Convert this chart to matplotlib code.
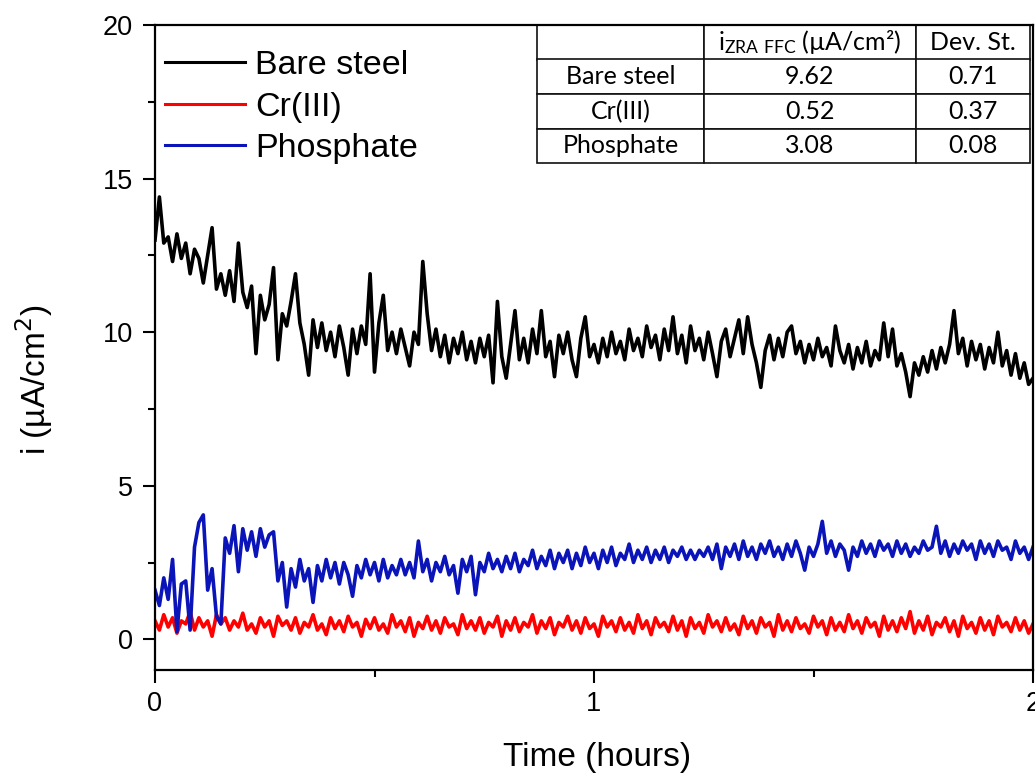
import numpy as np
import matplotlib
matplotlib.use('Agg')
import matplotlib.pyplot as plt
from matplotlib.ticker import MultipleLocator

plt.rcParams['font.family'] = ['Liberation Sans', 'DejaVu Sans']

# time axis, one reading every 0.01 h
time_h = np.arange(201) * 0.01

bare_steel = [
    13.0, 14.4, 12.9, 13.1, 12.3, 13.2, 12.4, 12.9, 11.9, 12.7,
    12.4, 11.6, 12.5, 13.4, 11.4, 11.9, 11.2, 12.0, 11.0, 12.9,
    11.3, 10.8, 11.5, 9.3, 11.2, 10.4, 10.9, 12.1, 9.1, 10.6,
    10.2, 11.0, 11.9, 10.3, 9.6, 8.6, 10.4, 9.5, 10.3, 9.4,
    10.0, 9.2, 10.2, 9.5, 8.6, 10.1, 9.3, 10.2, 9.6, 11.9,
    8.7, 10.3, 11.2, 9.4, 10.0, 9.3, 10.1, 9.5, 8.9, 10.0,
    9.6, 12.3, 10.6, 9.4, 10.1, 9.2, 9.9, 9.0, 9.8, 9.3,
    10.0, 9.1, 9.7, 9.0, 9.8, 9.2, 9.9, 8.35, 11.0, 9.2,
    8.5, 9.6, 10.7, 9.1, 9.8, 9.0, 10.1, 9.3, 10.7, 9.2,
    9.7, 8.55, 9.9, 9.3, 10.0, 9.1, 8.55, 9.8, 10.5, 9.2,
    9.6, 9.0, 9.8, 9.2, 10.0, 9.3, 9.7, 9.1, 10.1, 9.4,
    9.8, 9.2, 10.2, 9.5, 9.9, 9.1, 10.1, 9.4, 10.5, 9.3,
    9.9, 9.0, 10.2, 9.4, 9.8, 9.1, 10.0, 9.3, 8.55, 9.7,
    10.1, 9.2, 9.8, 10.4, 9.3, 10.5, 9.6, 9.0, 8.2, 9.4,
    9.9, 9.1, 9.8, 9.2, 10.0, 10.2, 9.3, 9.7, 9.0, 9.6,
    9.1, 9.8, 9.2, 9.5, 8.9, 10.2, 9.4, 9.0, 9.6, 8.8,
    9.5, 9.0, 9.7, 8.9, 9.4, 9.1, 10.3, 9.2, 10.1, 8.9,
    9.3, 8.7, 7.9, 9.0, 8.6, 9.2, 8.7, 9.4, 8.8, 9.5,
    9.0, 9.6, 10.7, 9.3, 9.8, 8.9, 9.7, 9.1, 9.6, 8.8,
    9.5, 9.0, 10.0, 8.9, 9.4, 8.6, 9.3, 8.5, 9.0, 8.3,
    8.5]

cr_iii = [
    0.6, 0.3, 0.8, 0.4, 0.7, 0.2, 0.6, 0.5, 0.9, 0.3,
    0.7, 0.4, 0.6, 0.1, 0.8, 0.5, 0.7, 0.3, 0.6, 0.4,
    0.85, 0.3, 0.5, 0.2, 0.7, 0.4, 0.6, 0.1, 0.75, 0.45,
    0.6, 0.3, 0.7, 0.2, 0.55, 0.4, 0.8, 0.3, 0.5, 0.15,
    0.7, 0.35, 0.6, 0.25, 0.75, 0.4, 0.55, 0.1, 0.65, 0.35,
    0.7, 0.3, 0.5, 0.2, 0.8, 0.4, 0.6, 0.25, 0.7, 0.1,
    0.55, 0.35, 0.75, 0.3, 0.6, 0.2, 0.7, 0.4, 0.5, 0.15,
    0.8, 0.35, 0.6, 0.3, 0.7, 0.2, 0.55, 0.4, 0.75, 0.1,
    0.6, 0.3, 0.7, 0.25, 0.55, 0.4, 0.8, 0.2, 0.6, 0.35,
    0.7, 0.15, 0.55, 0.4, 0.75, 0.3, 0.6, 0.2, 0.7, 0.35,
    0.5, 0.1, 0.75, 0.4, 0.6, 0.25, 0.7, 0.3, 0.55, 0.2,
    0.8, 0.35, 0.6, 0.15, 0.7, 0.4, 0.55, 0.25, 0.75, 0.3,
    0.6, 0.1, 0.7, 0.35, 0.55, 0.2, 0.8, 0.4, 0.6, 0.25,
    0.7, 0.3, 0.5, 0.15, 0.75, 0.35, 0.6, 0.2, 0.7, 0.4,
    0.55, 0.1, 0.8, 0.3, 0.6, 0.25, 0.7, 0.35, 0.5, 0.2,
    0.75, 0.4, 0.6, 0.15, 0.7, 0.3, 0.55, 0.25, 0.8, 0.35,
    0.6, 0.2, 0.7, 0.4, 0.55, 0.1, 0.75, 0.3, 0.6, 0.25,
    0.7, 0.35, 0.9, 0.2, 0.6, 0.3, 0.75, 0.15, 0.55, 0.4,
    0.7, 0.25, 0.6, 0.1, 0.75, 0.35, 0.55, 0.2, 0.7, 0.3,
    0.6, 0.15, 0.75, 0.4, 0.55, 0.25, 0.7, 0.3, 0.6, 0.2,
    0.5]

phosphate = [
    1.6, 1.1, 2.0, 1.3, 2.6, 0.25, 1.8, 1.9, 0.3, 3.0,
    3.8, 4.05, 1.6, 2.3, 0.75, 0.5, 3.3, 2.8, 3.7, 2.2,
    3.6, 2.9, 3.5, 2.7, 3.6, 3.0, 3.4, 3.5, 1.9, 2.5,
    1.05, 2.3, 1.7, 2.6, 1.9, 2.3, 1.2, 2.4, 1.9, 2.6,
    2.0, 2.5, 1.8, 2.5, 2.1, 1.4, 2.4, 2.0, 2.6, 2.1,
    2.5, 1.9, 2.6, 2.0, 2.4, 2.1, 2.6, 2.1, 2.5, 2.0,
    3.2, 2.2, 2.6, 1.9, 2.5, 2.2, 2.7, 2.1, 2.4, 1.5,
    2.6, 2.2, 2.7, 1.45, 2.5, 2.2, 2.8, 2.3, 2.6, 2.2,
    2.7, 2.3, 2.8, 2.2, 2.6, 2.4, 2.9, 2.3, 2.7, 2.4,
    2.9, 2.3, 2.8, 2.5, 2.9, 2.3, 2.8, 2.4, 3.0, 2.5,
    2.8, 2.3, 2.9, 2.5, 3.0, 2.4, 2.8, 2.6, 3.1, 2.5,
    2.9, 2.6, 3.0, 2.5, 2.9, 2.6, 3.0, 2.5, 2.9, 2.7,
    3.0, 2.6, 2.9, 2.6, 2.9, 2.7, 3.0, 2.6, 3.1, 2.3,
    3.0, 2.7, 3.1, 2.6, 3.2, 2.7, 3.0, 2.6, 3.1, 2.8,
    3.2, 2.7, 3.0, 2.6, 3.1, 2.7, 3.2, 2.8, 2.25, 3.0,
    2.7, 3.1, 3.84, 2.8, 3.2, 2.7, 3.1, 2.9, 2.25, 3.0,
    2.7, 3.2, 2.8, 3.1, 2.7, 3.2, 2.9, 3.1, 2.7, 3.2,
    2.8, 3.1, 2.7, 3.0, 2.8, 3.2, 2.9, 3.0, 3.68, 2.8,
    3.2, 2.7, 3.1, 2.8, 3.2, 2.9, 3.1, 2.6, 3.2, 2.8,
    3.1, 2.7, 3.2, 2.9, 3.0, 2.6, 3.2, 2.8, 3.0, 2.6,
    3.0]

series_names = ['Bare steel', 'Cr(III)', 'Phosphate']
series_colors = ['black', '#ff0000', '#0a14b8']

table_header = ['', r'$\mathregular{i_{ZRA\ FFC}}$ (µA/cm²)', 'Dev. St.']
table_rows = [['Bare steel', '9.62', '0.71'],
              ['Cr(III)', '0.52', '0.37'],
              ['Phosphate', '3.08', '0.08']]

fig = plt.figure(figsize=(10.35, 7.73), dpi=100)
ax = fig.add_axes([155/1035, 1-670/773, 878/1035, 645/773])

for vals, name, col in zip([bare_steel, cr_iii, phosphate], series_names, series_colors):
    ax.plot(time_h, vals, color=col, lw=2.6, label=name)

ax.set_xlim(0, 2)
ax.set_ylim(-1, 20)
ax.xaxis.set_major_locator(MultipleLocator(1))
ax.xaxis.set_minor_locator(MultipleLocator(0.5))
ax.yaxis.set_major_locator(MultipleLocator(5))
ax.yaxis.set_minor_locator(MultipleLocator(2.5))
ax.tick_params(which='major', length=9, width=1.5, labelsize=19.5, direction='out')
ax.tick_params(which='minor', length=5, width=1.5, direction='out')
ax.tick_params(axis='y', pad=7)
ax.tick_params(axis='x', pad=6)
for sp in ax.spines.values():
    sp.set_linewidth(1.6)

ax.set_xlabel('Time (hours)', fontsize=24)
ax.set_ylabel('i (µA/cm$^2$)', fontsize=24)
ax.xaxis.set_label_coords(0.503, -0.112)
ax.yaxis.set_label_coords(-0.114, 0.45)

leg = ax.legend(loc='upper left', bbox_to_anchor=(0.0114, 0.961), frameon=False,
                fontsize=24.5, handlelength=2.35, handletextpad=0.3,
                labelspacing=0.31, borderpad=0, borderaxespad=0)
for h in leg.get_lines():
    h.set_linewidth(2.2)

# summary table in the top right corner
tab = ax.table(cellText=table_rows, colLabels=table_header,
               colWidths=[167, 212, 114], cellLoc='center',
               bbox=[(537-155)/878, (670-163)/645, 493/878, 138/645])
tab.auto_set_font_size(False)
for (r, c), cell in tab.get_celld().items():
    cell.set_linewidth(1.2)
    cell.set_edgecolor('#111111')
    cell.get_text().set_fontfamily(['Lato', 'DejaVu Sans'])
    cell.get_text().set_fontsize(18)

fig.savefig('out.png', dpi=100)
